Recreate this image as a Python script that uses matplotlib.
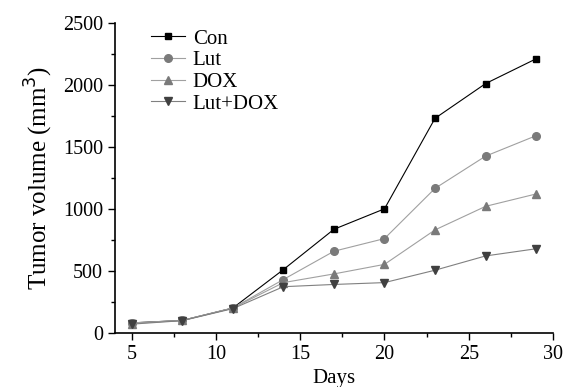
import numpy as np
import matplotlib.pyplot as plt
from matplotlib.ticker import MultipleLocator

plt.rcParams['font.family'] = ['Liberation Serif', 'DejaVu Serif']

# Du lieu doc tu hinh
days = [5, 8, 11, 14, 17, 20, 23, 26, 29]
con = [80, 100, 200, 510, 835, 1000, 1730, 2010, 2210]
lut = [80, 100, 200, 430, 658, 760, 1165, 1425, 1590]
dox = [75, 100, 200, 405, 475, 552, 830, 1020, 1120]
lut_dox = [70, 98, 195, 372, 390, 405, 505, 620, 678]

fig = plt.figure(figsize=(5.66, 3.87), dpi=100)
ax = fig.add_axes([0.203, 0.140, 0.774, 0.801])

ax.plot(days, con, color='black', marker='s', ms=5, lw=0.8, label='Con')
ax.plot(days, lut, color='#a0a0a0', mec='#7a7a7a', mfc='#7a7a7a', marker='o', ms=5.5, lw=0.8, label='Lut')
ax.plot(days, dox, color='#a0a0a0', mec='#7a7a7a', mfc='#7a7a7a', marker='^', ms=6, lw=0.8, label='DOX')
ax.plot(days, lut_dox, color='#808080', mec='#404040', mfc='#404040', marker='v', ms=6, lw=0.8, label='Lut+DOX')

ax.set_xlim(4, 30)
ax.set_ylim(0, 2500)
ax.xaxis.set_major_locator(MultipleLocator(5))
ax.xaxis.set_minor_locator(MultipleLocator(2.5))
ax.yaxis.set_major_locator(MultipleLocator(500))
ax.yaxis.set_minor_locator(MultipleLocator(250))
ax.spines['top'].set_visible(False)
ax.spines['right'].set_visible(False)
ax.spines['left'].set_linewidth(1.2)
ax.spines['bottom'].set_linewidth(1.2)
ax.tick_params(which='major', direction='out', length=5, width=1, labelsize=14.5)
ax.tick_params(which='minor', direction='out', length=3, width=1)

ax.set_xlabel('Days', fontsize=15, labelpad=4)
ax.set_ylabel('Tumor volume (mm$^3$)', fontsize=18, labelpad=6)

ax.legend(loc='upper left', bbox_to_anchor=(0.04, 1.04), frameon=False, fontsize=15,
          handlelength=1.6, handletextpad=0.4, labelspacing=0.1)

fig.savefig('out.png', dpi=100)
